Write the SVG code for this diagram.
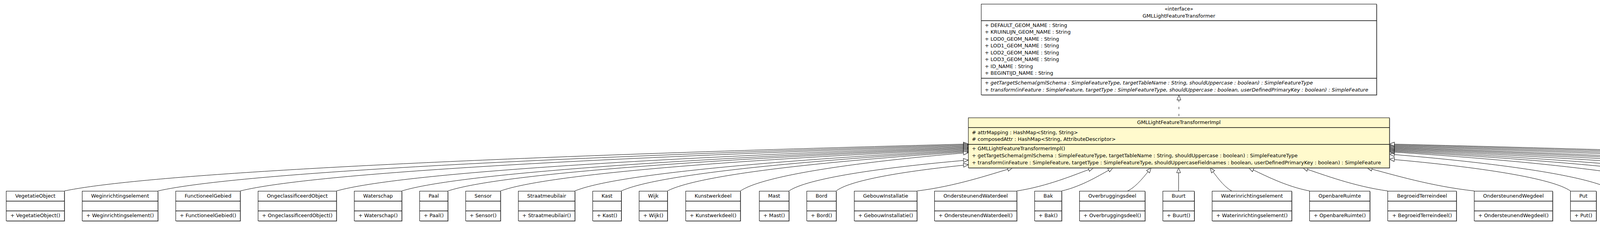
<svg xmlns="http://www.w3.org/2000/svg" width="6157" height="575" viewBox="0 0 6157 575">
<style>
text{font-family:"DejaVu Sans","Liberation Sans",sans-serif;font-size:12.85px;fill:#000}
.c{text-anchor:middle}
.it{font-style:italic}
.box{fill:#fff;stroke:#000;stroke-width:1.1}
.impl{fill:#fffacd;stroke:#000;stroke-width:1.1}
.sh{fill:#8c8c8c}
.div{stroke:#000;stroke-width:1.6}
.e{fill:none;stroke:#000;stroke-width:1;marker-end:url(#tri)}
.d{fill:none;stroke:#000;stroke-width:1;stroke-dasharray:6 12;stroke-dashoffset:14;marker-end:url(#tri)}
</style>
<defs>
<marker id="tri" markerUnits="userSpaceOnUse" viewBox="0 0 14 12" markerWidth="14" markerHeight="12" refX="13" refY="6" orient="auto" overflow="visible">
<path d="M0.5,1 L13,6 L0.5,11 Z" fill="#fff" stroke="#000" stroke-width="1"/>
</marker>
</defs>
<rect width="6157" height="575" fill="#fff"/>

<g id="connectors">
<path class="d" d="M3018,301 L3018,243"/>
<path class="e" d="M164.8,488 C396.2,440 1321.9,398 2479,368"/>
<path class="e" d="M404.2,488 C611.7,440.9 1441.6,399.65 2479,370.2"/>
<path class="e" d="M615,488 C801.4,441.8 1547,401.3 2479,372.4"/>
<path class="e" d="M861.3,488 C1023.1,442.6 1670.2,402.95 2479,374.6"/>
<path class="e" d="M1028.6,488 C1173.6,443.5 1753.8,404.6 2479,376.8"/>
<path class="e" d="M1146.5,488 C1279.8,444.4 1812.8,406.25 2479,379"/>
<path class="e" d="M1281.3,488 C1401.1,445.3 1880.2,407.9 2479,381.2"/>
<path class="e" d="M1471.7,488 C1572.4,446.2 1975.4,409.55 2479,383.4"/>
<path class="e" d="M1590.5,488 C1679.4,447 2034.8,411.2 2479,385.6"/>
<path class="e" d="M1708.6,488 C1785.6,447.9 2093.8,412.85 2479,387.8"/>
<path class="e" d="M1895.4,488 C1953.8,448.8 2187.2,414.5 2479,390"/>
<path class="e" d="M2019.7,488 C2065.6,456.4 2249.4,428.75 2479,409"/>
<path class="e" d="M2140.6,488 C2174.4,461.2 2309.8,437.75 2479,421"/>
<path class="e" d="M2347.5,488 C2445.5,476 2531,447 2592,429"/>
<path class="e" d="M2603,488 C2681.4,476 2749.8,447 2799,429"/>
<path class="e" d="M2717.9,488 C2770.3,476 2816.3,447 2849,429"/>
<path class="e" d="M2887,488 C2911,476 2932,447 2947,429"/>
<path class="e" d="M3017.2,488 L3017.2,429"/>
<path class="e" d="M3153,488 C3131,476 3111.8,447 3098,429"/>
<path class="e" d="M3352.5,488 C3290.3,476 3235.9,447 3197,429"/>
<path class="e" d="M3552.6,488 C3465.8,476 3389.8,447 3335.5,429"/>
<path class="e" d="M3774.1,488 C3664.5,476 3568.5,447 3500,429"/>
<path class="e" d="M4020.4,488 C3974.1,455.5 3788.7,427 3557,406.7"/>
<path class="e" d="M4132.1,488 C4074.6,450.4 3844.6,417.5 3557,394"/>
<path class="e" d="M4336,488 C4258.1,448 3946.5,413 3557,388"/>
<path class="e" d="M4487.5,488 C4394.5,447.2 4022.3,411.5 3557,386"/>
<path class="e" d="M4615.6,488 C4509.7,446.4 4086.3,410 3557,384"/>
<path class="e" d="M4777.5,488 C4655.5,445.6 4167.3,408.5 3557,382"/>
<path class="e" d="M4930.6,488 C4793.2,444.8 4243.8,407 3557,380"/>
<path class="e" d="M5076.6,488 C4924.6,444 4316.8,405.5 3557,378"/>
<path class="e" d="M5199.3,488 C5035.1,443.2 4378.2,404 3557,376"/>
<path class="e" d="M5438.3,488 C5250.2,442.4 4497.7,402.5 3557,374"/>
<path class="e" d="M5637.9,488 C5429.8,441.6 4597.5,401 3557,372"/>
<path class="e" d="M5872.5,488 C5641,440.8 4714.8,399.5 3557,370"/>
<path class="e" d="M6029.5,488 C5782.3,440 4793.3,398 3557,368"/>
</g>

<g id="GMLLightFeatureTransformer">
<rect class="sh" x="2513.5" y="12" width="1012" height="232"/>
<rect class="box" x="2512" y="10.5" width="1012" height="232"/>
<line class="div" x1="2512" y1="52.7" x2="3524" y2="52.7"/>
<line class="div" x1="2512" y1="200" x2="3524" y2="200"/>
<text class="c" x="3018" y="27.2">«interface»</text>
<text class="c" x="3018" y="44.5">GMLLightFeatureTransformer</text>
<text x="2521" y="68.8">+ DEFAULT_GEOM_NAME : String</text>
<text x="2521" y="86.3">+ KRUINLIJN_GEOM_NAME : String</text>
<text x="2521" y="103.8">+ LOD0_GEOM_NAME : String</text>
<text x="2521" y="121.2">+ LOD1_GEOM_NAME : String</text>
<text x="2521" y="138.7">+ LOD2_GEOM_NAME : String</text>
<text x="2521" y="156.2">+ LOD3_GEOM_NAME : String</text>
<text x="2521" y="173.7">+ ID_NAME : String</text>
<text x="2521" y="191.2">+ BEGINTIJD_NAME : String</text>
<text x="2521" y="216"><tspan>+ </tspan><tspan class="it">getTargetSchema(gmlSchema : SimpleFeatureType, targetTableName : String, shouldUppercase : boolean) : SimpleFeatureType</tspan></text>
<text x="2521" y="233.5"><tspan>+ </tspan><tspan class="it">transform(inFeature : SimpleFeature, targetType : SimpleFeatureType, shouldUppercase : boolean, userDefinedPrimaryKey : boolean) : SimpleFeature</tspan></text>
</g>

<g id="GMLLightFeatureTransformerImpl">
<rect class="sh" x="2480.5" y="302.5" width="1078" height="128"/>
<rect class="impl" x="2479" y="301" width="1078" height="128"/>
<line class="div" x1="2479" y1="326" x2="3557" y2="326"/>
<line class="div" x1="2479" y1="369" x2="3557" y2="369"/>
<text class="c" x="3018" y="317.4">GMLLightFeatureTransformerImpl</text>
<text x="2488" y="343"># attrMapping : HashMap&lt;String, String&gt;</text>
<text x="2488" y="360.2"># composedAttr : HashMap&lt;String, AttributeDescriptor&gt;</text>
<text x="2488" y="384.4">+ GMLLightFeatureTransformerImpl()</text>
<text x="2488" y="402.2">+ getTargetSchema(gmlSchema : SimpleFeatureType, targetTableName : String, shouldUppercase : boolean) : SimpleFeatureType</text>
<text x="2488" y="419.8">+ transform(inFeature : SimpleFeature, targetType : SimpleFeatureType, shouldUppercaseFieldnames : boolean, userDefinedPrimaryKey : boolean) : SimpleFeature</text>
</g>

<g id="VegetatieObject"><rect class="sh" x="17.5" y="490" width="148.8" height="76"/><rect class="box" x="16" y="488.5" width="148.8" height="76"/><line class="div" x1="16" y1="514" x2="164.8" y2="514"/><line class="div" x1="16" y1="539" x2="164.8" y2="539"/><text class="c" x="90.4" y="505.4">VegetatieObject</text><text class="c" x="90.4" y="555.2">+ VegetatieObject()</text></g>
<g id="Weginrichtingselement"><rect class="sh" x="212" y="490" width="193.7" height="76"/><rect class="box" x="210.5" y="488.5" width="193.7" height="76"/><line class="div" x1="210.5" y1="514" x2="404.2" y2="514"/><line class="div" x1="210.5" y1="539" x2="404.2" y2="539"/><text class="c" x="307.4" y="505.4">Weginrichtingselement</text><text class="c" x="307.4" y="555.2">+ Weginrichtingselement()</text></g>
<g id="FunctioneelGebied"><rect class="sh" x="451.4" y="490" width="165.1" height="76"/><rect class="box" x="449.9" y="488.5" width="165.1" height="76"/><line class="div" x1="449.9" y1="514" x2="615" y2="514"/><line class="div" x1="449.9" y1="539" x2="615" y2="539"/><text class="c" x="532.5" y="505.4">FunctioneelGebied</text><text class="c" x="532.5" y="555.2">+ FunctioneelGebied()</text></g>
<g id="OngeclassificeerdObject"><rect class="sh" x="662.2" y="490" width="200.6" height="76"/><rect class="box" x="660.7" y="488.5" width="200.6" height="76"/><line class="div" x1="660.7" y1="514" x2="861.3" y2="514"/><line class="div" x1="660.7" y1="539" x2="861.3" y2="539"/><text class="c" x="761" y="505.4">OngeclassificeerdObject</text><text class="c" x="761" y="555.2">+ OngeclassificeerdObject()</text></g>
<g id="Waterschap"><rect class="sh" x="908.5" y="490" width="121.6" height="76"/><rect class="box" x="907" y="488.5" width="121.6" height="76"/><line class="div" x1="907" y1="514" x2="1028.6" y2="514"/><line class="div" x1="907" y1="539" x2="1028.6" y2="539"/><text class="c" x="967.8" y="505.4">Waterschap</text><text class="c" x="967.8" y="555.2">+ Waterschap()</text></g>
<g id="Paal"><rect class="sh" x="1075.8" y="490" width="72.2" height="76"/><rect class="box" x="1074.3" y="488.5" width="72.2" height="76"/><line class="div" x1="1074.3" y1="514" x2="1146.5" y2="514"/><line class="div" x1="1074.3" y1="539" x2="1146.5" y2="539"/><text class="c" x="1110.4" y="505.4">Paal</text><text class="c" x="1110.4" y="555.2">+ Paal()</text></g>
<g id="Sensor"><rect class="sh" x="1193.7" y="490" width="89.1" height="76"/><rect class="box" x="1192.2" y="488.5" width="89.1" height="76"/><line class="div" x1="1192.2" y1="514" x2="1281.3" y2="514"/><line class="div" x1="1192.2" y1="539" x2="1281.3" y2="539"/><text class="c" x="1236.8" y="505.4">Sensor</text><text class="c" x="1236.8" y="555.2">+ Sensor()</text></g>
<g id="Straatmeubilair"><rect class="sh" x="1328.5" y="490" width="144.7" height="76"/><rect class="box" x="1327" y="488.5" width="144.7" height="76"/><line class="div" x1="1327" y1="514" x2="1471.7" y2="514"/><line class="div" x1="1327" y1="539" x2="1471.7" y2="539"/><text class="c" x="1399.4" y="505.4">Straatmeubilair</text><text class="c" x="1399.4" y="555.2">+ Straatmeubilair()</text></g>
<g id="Kast"><rect class="sh" x="1518.9" y="490" width="73.1" height="76"/><rect class="box" x="1517.4" y="488.5" width="73.1" height="76"/><line class="div" x1="1517.4" y1="514" x2="1590.5" y2="514"/><line class="div" x1="1517.4" y1="539" x2="1590.5" y2="539"/><text class="c" x="1554" y="505.4">Kast</text><text class="c" x="1554" y="555.2">+ Kast()</text></g>
<g id="Wijk"><rect class="sh" x="1637.7" y="490" width="72.4" height="76"/><rect class="box" x="1636.2" y="488.5" width="72.4" height="76"/><line class="div" x1="1636.2" y1="514" x2="1708.6" y2="514"/><line class="div" x1="1636.2" y1="539" x2="1708.6" y2="539"/><text class="c" x="1672.4" y="505.4">Wijk</text><text class="c" x="1672.4" y="555.2">+ Wijk()</text></g>
<g id="Kunstwerkdeel"><rect class="sh" x="1757" y="490" width="139.9" height="76"/><rect class="box" x="1755.5" y="488.5" width="139.9" height="76"/><line class="div" x1="1755.5" y1="514" x2="1895.4" y2="514"/><line class="div" x1="1755.5" y1="539" x2="1895.4" y2="539"/><text class="c" x="1825.5" y="505.4">Kunstwerkdeel</text><text class="c" x="1825.5" y="555.2">+ Kunstwerkdeel()</text></g>
<g id="Mast"><rect class="sh" x="1945.4" y="490" width="75.8" height="76"/><rect class="box" x="1943.9" y="488.5" width="75.8" height="76"/><line class="div" x1="1943.9" y1="514" x2="2019.7" y2="514"/><line class="div" x1="1943.9" y1="539" x2="2019.7" y2="539"/><text class="c" x="1981.8" y="505.4">Mast</text><text class="c" x="1981.8" y="555.2">+ Mast()</text></g>
<g id="Bord"><rect class="sh" x="2066.9" y="490" width="75.2" height="76"/><rect class="box" x="2065.4" y="488.5" width="75.2" height="76"/><line class="div" x1="2065.4" y1="514" x2="2140.6" y2="514"/><line class="div" x1="2065.4" y1="539" x2="2140.6" y2="539"/><text class="c" x="2103" y="505.4">Bord</text><text class="c" x="2103" y="555.2">+ Bord()</text></g>
<g id="GebouwInstallatie"><rect class="sh" x="2188.5" y="490" width="160.4" height="76"/><rect class="box" x="2187" y="488.5" width="160.4" height="76"/><line class="div" x1="2187" y1="514" x2="2347.4" y2="514"/><line class="div" x1="2187" y1="539" x2="2347.4" y2="539"/><text class="c" x="2267.2" y="505.4">GebouwInstallatie</text><text class="c" x="2267.2" y="555.2">+ GebouwInstallatie()</text></g>
<g id="OndersteunendWaterdeel"><rect class="sh" x="2393.9" y="490" width="210.6" height="76"/><rect class="box" x="2392.4" y="488.5" width="210.6" height="76"/><line class="div" x1="2392.4" y1="514" x2="2603" y2="514"/><line class="div" x1="2392.4" y1="539" x2="2603" y2="539"/><text class="c" x="2497.7" y="505.4">OndersteunendWaterdeel</text><text class="c" x="2497.7" y="555.2">+ OndersteunendWaterdeel()</text></g>
<g id="Bak"><rect class="sh" x="2650.2" y="490" width="69.2" height="76"/><rect class="box" x="2648.7" y="488.5" width="69.2" height="76"/><line class="div" x1="2648.7" y1="514" x2="2717.9" y2="514"/><line class="div" x1="2648.7" y1="539" x2="2717.9" y2="539"/><text class="c" x="2683.3" y="505.4">Bak</text><text class="c" x="2683.3" y="555.2">+ Bak()</text></g>
<g id="Overbruggingsdeel"><rect class="sh" x="2765.1" y="490" width="167.6" height="76"/><rect class="box" x="2763.6" y="488.5" width="167.6" height="76"/><line class="div" x1="2763.6" y1="514" x2="2931.2" y2="514"/><line class="div" x1="2763.6" y1="539" x2="2931.2" y2="539"/><text class="c" x="2847.4" y="505.4">Overbruggingsdeel</text><text class="c" x="2847.4" y="555.2">+ Overbruggingsdeel()</text></g>
<g id="Buurt"><rect class="sh" x="2978.4" y="490" width="80.5" height="76"/><rect class="box" x="2976.9" y="488.5" width="80.5" height="76"/><line class="div" x1="2976.9" y1="514" x2="3057.4" y2="514"/><line class="div" x1="2976.9" y1="539" x2="3057.4" y2="539"/><text class="c" x="3017.2" y="505.4">Buurt</text><text class="c" x="3017.2" y="555.2">+ Buurt()</text></g>
<g id="Waterinrichtingselement"><rect class="sh" x="3104.6" y="490" width="203.7" height="76"/><rect class="box" x="3103.1" y="488.5" width="203.7" height="76"/><line class="div" x1="3103.1" y1="514" x2="3306.8" y2="514"/><line class="div" x1="3103.1" y1="539" x2="3306.8" y2="539"/><text class="c" x="3205" y="505.4">Waterinrichtingselement</text><text class="c" x="3205" y="555.2">+ Waterinrichtingselement()</text></g>
<g id="OpenbareRuimte"><rect class="sh" x="3354" y="490" width="154.4" height="76"/><rect class="box" x="3352.5" y="488.5" width="154.4" height="76"/><line class="div" x1="3352.5" y1="514" x2="3506.9" y2="514"/><line class="div" x1="3352.5" y1="539" x2="3506.9" y2="539"/><text class="c" x="3429.7" y="505.4">OpenbareRuimte</text><text class="c" x="3429.7" y="555.2">+ OpenbareRuimte()</text></g>
<g id="BegroeidTerreindeel"><rect class="sh" x="3554.1" y="490" width="175.8" height="76"/><rect class="box" x="3552.6" y="488.5" width="175.8" height="76"/><line class="div" x1="3552.6" y1="514" x2="3728.4" y2="514"/><line class="div" x1="3552.6" y1="539" x2="3728.4" y2="539"/><text class="c" x="3640.5" y="505.4">BegroeidTerreindeel</text><text class="c" x="3640.5" y="555.2">+ BegroeidTerreindeel()</text></g>
<g id="OndersteunendWegdeel"><rect class="sh" x="3775.6" y="490" width="200.6" height="76"/><rect class="box" x="3774.1" y="488.5" width="200.6" height="76"/><line class="div" x1="3774.1" y1="514" x2="3974.7" y2="514"/><line class="div" x1="3774.1" y1="539" x2="3974.7" y2="539"/><text class="c" x="3874.4" y="505.4">OndersteunendWegdeel</text><text class="c" x="3874.4" y="555.2">+ OndersteunendWegdeel()</text></g>
<g id="Put"><rect class="sh" x="4021.9" y="490" width="66" height="76"/><rect class="box" x="4020.4" y="488.5" width="66" height="76"/><line class="div" x1="4020.4" y1="514" x2="4086.4" y2="514"/><line class="div" x1="4020.4" y1="539" x2="4086.4" y2="539"/><text class="c" x="4053.4" y="505.4">Put</text><text class="c" x="4053.4" y="555.2">+ Put()</text></g>
<g id="OverigeScheiding"><rect class="sh" x="4133.6" y="490" width="158.2" height="76"/><rect class="box" x="4132.1" y="488.5" width="158.2" height="76"/><line class="div" x1="4132.1" y1="514" x2="4290.3" y2="514"/><line class="div" x1="4132.1" y1="539" x2="4290.3" y2="539"/><text class="c" x="4211.2" y="505.4">OverigeScheiding</text><text class="c" x="4211.2" y="555.2">+ OverigeScheiding()</text></g>
<g id="Scheiding"><rect class="sh" x="4337.5" y="490" width="107.8" height="76"/><rect class="box" x="4336" y="488.5" width="107.8" height="76"/><line class="div" x1="4336" y1="514" x2="4443.8" y2="514"/><line class="div" x1="4336" y1="539" x2="4443.8" y2="539"/><text class="c" x="4389.9" y="505.4">Scheiding</text><text class="c" x="4389.9" y="555.2">+ Scheiding()</text></g>
<g id="Spoor"><rect class="sh" x="4489" y="490" width="82.4" height="76"/><rect class="box" x="4487.5" y="488.5" width="82.4" height="76"/><line class="div" x1="4487.5" y1="514" x2="4569.9" y2="514"/><line class="div" x1="4487.5" y1="539" x2="4569.9" y2="539"/><text class="c" x="4528.7" y="505.4">Spoor</text><text class="c" x="4528.7" y="555.2">+ Spoor()</text></g>
<g id="Tunneldeel"><rect class="sh" x="4617.1" y="490" width="116.2" height="76"/><rect class="box" x="4615.6" y="488.5" width="116.2" height="76"/><line class="div" x1="4615.6" y1="514" x2="4731.8" y2="514"/><line class="div" x1="4615.6" y1="539" x2="4731.8" y2="539"/><text class="c" x="4673.7" y="505.4">Tunneldeel</text><text class="c" x="4673.7" y="555.2">+ Tunneldeel()</text></g>
<g id="Stadsdeel"><rect class="sh" x="4779" y="490" width="108.4" height="76"/><rect class="box" x="4777.5" y="488.5" width="108.4" height="76"/><line class="div" x1="4777.5" y1="514" x2="4885.9" y2="514"/><line class="div" x1="4777.5" y1="539" x2="4885.9" y2="539"/><text class="c" x="4831.7" y="505.4">Stadsdeel</text><text class="c" x="4831.7" y="555.2">+ Stadsdeel()</text></g>
<g id="Wegdeel"><rect class="sh" x="4932.1" y="490" width="101.3" height="76"/><rect class="box" x="4930.6" y="488.5" width="101.3" height="76"/><line class="div" x1="4930.6" y1="514" x2="5031.9" y2="514"/><line class="div" x1="4930.6" y1="539" x2="5031.9" y2="539"/><text class="c" x="4981.3" y="505.4">Wegdeel</text><text class="c" x="4981.3" y="555.2">+ Wegdeel()</text></g>
<g id="Pand"><rect class="sh" x="5078.1" y="490" width="77" height="76"/><rect class="box" x="5076.6" y="488.5" width="77" height="76"/><line class="div" x1="5076.6" y1="514" x2="5153.6" y2="514"/><line class="div" x1="5076.6" y1="539" x2="5153.6" y2="539"/><text class="c" x="5115.1" y="505.4">Pand</text><text class="c" x="5115.1" y="555.2">+ Pand()</text></g>
<g id="OnbegroeidTerreindeel"><rect class="sh" x="5200.8" y="490" width="193.3" height="76"/><rect class="box" x="5199.3" y="488.5" width="193.3" height="76"/><line class="div" x1="5199.3" y1="514" x2="5392.6" y2="514"/><line class="div" x1="5199.3" y1="539" x2="5392.6" y2="539"/><text class="c" x="5296" y="505.4">OnbegroeidTerreindeel</text><text class="c" x="5296" y="555.2">+ OnbegroeidTerreindeel()</text></g>
<g id="OverigBouwwerk"><rect class="sh" x="5439.8" y="490" width="153.9" height="76"/><rect class="box" x="5438.3" y="488.5" width="153.9" height="76"/><line class="div" x1="5438.3" y1="514" x2="5592.2" y2="514"/><line class="div" x1="5438.3" y1="539" x2="5592.2" y2="539"/><text class="c" x="5515.3" y="505.4">OverigBouwwerk</text><text class="c" x="5515.3" y="555.2">+ OverigBouwwerk()</text></g>
<g id="OpenbareRuimteLabel"><rect class="sh" x="5639.4" y="490" width="188.9" height="76"/><rect class="box" x="5637.9" y="488.5" width="188.9" height="76"/><line class="div" x1="5637.9" y1="514" x2="5826.8" y2="514"/><line class="div" x1="5637.9" y1="539" x2="5826.8" y2="539"/><text class="c" x="5732.4" y="505.4">OpenbareRuimteLabel</text><text class="c" x="5732.4" y="555.2">+ OpenbareRuimteLabel()</text></g>
<g id="Waterdeel"><rect class="sh" x="5874" y="490" width="111.3" height="76"/><rect class="box" x="5872.5" y="488.5" width="111.3" height="76"/><line class="div" x1="5872.5" y1="514" x2="5983.8" y2="514"/><line class="div" x1="5872.5" y1="539" x2="5983.8" y2="539"/><text class="c" x="5928.2" y="505.4">Waterdeel</text><text class="c" x="5928.2" y="555.2">+ Waterdeel()</text></g>
<g id="Installatie"><rect class="sh" x="6031" y="490" width="108" height="76"/><rect class="box" x="6029.5" y="488.5" width="108" height="76"/><line class="div" x1="6029.5" y1="514" x2="6137.5" y2="514"/><line class="div" x1="6029.5" y1="539" x2="6137.5" y2="539"/><text class="c" x="6083.5" y="505.4">Installatie</text><text class="c" x="6083.5" y="555.2">+ Installatie()</text></g>
</svg>
